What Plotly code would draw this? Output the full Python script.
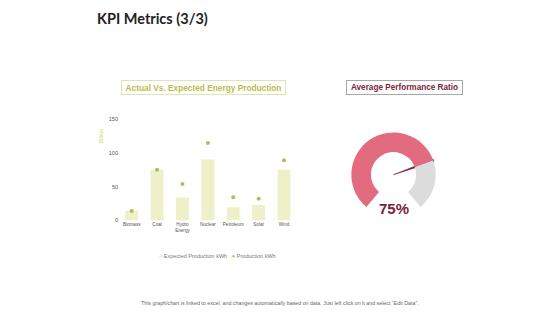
import math
import plotly.graph_objects as go

# ---- data ----
categories = ["Biomass", "Coal", "Hydro<br>Energy", "Nuclear", "Petroleum", "Solar", "Wind"]
expected_kwh = [14.5, 75, 34, 90, 19.5, 23, 75]
production_kwh = [14, 75, 54, 114.5, 34.5, 32, 89]
y_ticks = [0, 50, 100, 150]
y_tick_labels = ["0", "50", "100", "150"]
gauge_value = 75
gauge_max = 100

W, H = 560, 315
def px_x(p): return p / W
def px_y(p): return 1 - p / H

fig = go.Figure()

# ---- bar + dot chart ----
fig.add_trace(go.Bar(x=categories, y=expected_kwh, name="Expected Production kWh",
                     marker=dict(color="#eef0c9", line=dict(width=0)),
                     xaxis="x", yaxis="y", showlegend=False, hoverinfo="skip"))
fig.add_trace(go.Scatter(x=categories, y=production_kwh, name="Production kWh", mode="markers",
                         marker=dict(color="#afbf52", size=4),
                         xaxis="x", yaxis="y", showlegend=False, hoverinfo="skip"))

# ---- gauge (donut) ----
sweep = 280.0
gap = gauge_max * (360 - sweep) / sweep
gx0, gx1 = px_x(350.5), px_x(436.5)
gy0, gy1 = px_y(218), px_y(132)
fig.add_trace(go.Pie(values=[gauge_value, gauge_max - gauge_value, gap],
                     marker=dict(colors=["#e36b80", "#dcdcdc", "rgba(0,0,0,0)"], line=dict(width=0)),
                     hole=0.535, sort=False, direction="clockwise", rotation=-sweep / 2,
                     textinfo="none", hoverinfo="skip", showlegend=False,
                     domain=dict(x=[gx0, gx1], y=[gy0, gy1])))

# needle computed from the gauge value
ang = math.radians(-sweep / 2 + sweep * gauge_value / gauge_max)
r_tip, hw = 0.99, 0.035
tx, ty = r_tip * math.sin(ang), r_tip * math.cos(ang)
nx, ny = math.cos(ang), -math.sin(ang)  # perpendicular
fig.add_trace(go.Scatter(x=[0, tx + hw * nx, tx - hw * nx, 0],
                         y=[0, ty + hw * ny, ty - hw * ny, 0],
                         mode="lines", fill="toself", fillcolor="#7a1530",
                         line=dict(color="#7a1530", width=0.5),
                         xaxis="x2", yaxis="y2", showlegend=False, hoverinfo="skip"))

fig.update_layout(
    width=W, height=H,
    margin=dict(l=0, r=0, t=0, b=0),
    paper_bgcolor="white", plot_bgcolor="white",
    font=dict(family="Liberation Sans, Arial, sans-serif", color="#555"),
    xaxis=dict(domain=[px_x(119), px_x(296.7)], type="category", range=[-0.5, 6.5],
               showgrid=False, showline=False, zeroline=False, ticks="",
               tickfont=dict(size=4.6, color="#555")),
    yaxis=dict(domain=[px_y(221.7), px_y(118.3)], range=[0, 150],
               tickmode="array", tickvals=y_ticks, ticktext=y_tick_labels,
               showgrid=False, showline=False, zeroline=False, ticks="",
               tickfont=dict(size=5.5, color="#555")),
    xaxis2=dict(domain=[gx0, gx1], range=[-1, 1], visible=False, fixedrange=True),
    yaxis2=dict(domain=[gy0, gy1], range=[-1, 1], visible=False, fixedrange=True),
    bargap=0.49,
)

ann = []
ann.append(dict(text="<b>KPI Metrics (3/3)</b>", x=px_x(95), y=px_y(16), xref="paper", yref="paper",
                xanchor="left", yanchor="middle", showarrow=False,
                font=dict(family="Lato, sans-serif", size=14.5, color="#222")))
ann.append(dict(text="<b>Actual Vs. Expected Energy Production</b>", x=px_x(203.5), y=px_y(86.5),
                xref="paper", yref="paper", xanchor="center", yanchor="middle", showarrow=False,
                width=163, height=13, bordercolor="#e4e2b4", borderwidth=1, borderpad=0,
                font=dict(size=8.3, color="#bdbb4a")))
ann.append(dict(text="<b>Average Performance Ratio</b>", x=px_x(404.5), y=px_y(86.5),
                xref="paper", yref="paper", xanchor="center", yanchor="middle", showarrow=False,
                width=115, height=13, bordercolor="#a9a9a9", borderwidth=1, borderpad=0,
                font=dict(size=8.2, color="#7b1d3a")))
ann.append(dict(text="Billion", x=px_x(101), y=px_y(136), xref="paper", yref="paper",
                xanchor="center", yanchor="middle", showarrow=False, textangle=-90,
                font=dict(size=5.5, color="#d8d27a")))
ann.append(dict(text="<b>%d%%</b>" % gauge_value, x=px_x(394), y=px_y(209.5), xref="paper", yref="paper",
                xanchor="center", yanchor="middle", showarrow=False,
                font=dict(size=15, color="#7b1d3a")))
ann.append(dict(text='<span style="color:#eef0c9">■</span> Expected Production kWh', x=px_x(157),
                y=px_y(258), xref="paper", yref="paper", xanchor="left", yanchor="middle",
                showarrow=False, font=dict(size=5.5, color="#777")))
ann.append(dict(text='<span style="color:#afbf52">●</span> Production kWh', x=px_x(230),
                y=px_y(258), xref="paper", yref="paper", xanchor="left", yanchor="middle",
                showarrow=False, font=dict(size=5.5, color="#777")))
ann.append(dict(text="This graph/chart is linked to excel, and changes automatically based on data. Just left click on it and select \u201cEdit Data\u201d.",
                x=px_x(280), y=px_y(306), xref="paper", yref="paper", xanchor="center", yanchor="middle",
                showarrow=False, font=dict(size=5.3, color="#666")))
fig.update_layout(annotations=ann)

fig.write_html("out.html")
